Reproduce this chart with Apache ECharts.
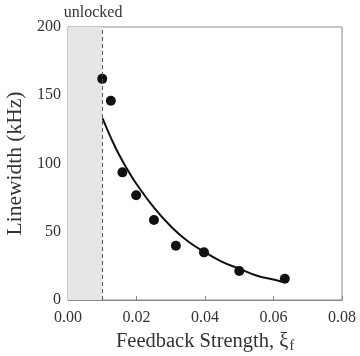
<!DOCTYPE html>
<html>
<head>
<meta charset="utf-8">
<script src="https://cdn.jsdelivr.net/npm/echarts@6/dist/echarts.min.js"></script>
<style>
  html, body { margin: 0; padding: 0; background: #fff; }
  #chart { width: 360px; height: 356px; }
</style>
</head>
<body>
<div id="chart"></div>
<script>
// measured linewidth points
const measX = [0.0100, 0.0125, 0.0159, 0.0199, 0.0251, 0.0315, 0.0397, 0.0500, 0.0633]
const measY = [162, 146, 93.5, 76.7, 58.6, 39.8, 34.9, 21.2, 15.6]
// fitted curve
const fitX = [0.0101, 0.0125, 0.015, 0.0175, 0.02, 0.025, 0.03, 0.035, 0.04, 0.045, 0.05, 0.055, 0.06, 0.0624]
const fitY = [133, 119, 106, 95, 85, 68, 54, 43, 35, 28, 23, 18, 15, 13.4]
// unlocked region
const unlockedFrom = 0
const unlockedTo = 0.01

const font = 'Liberation Serif'
const chart = echarts.init(document.getElementById('chart'))

chart.setOption({
  animation: false,
  grid: {
    left: 68, top: 27, right: 18, bottom: 56,
    containLabel: false,
    outerBoundsMode: 'none',
    show: true, borderColor: '#8a8a8a', borderWidth: 1
  },
  xAxis: {
    type: 'value',
    min: 0, max: 0.08, interval: 0.02,
    name: 'Feedback Strength, ξ{sub|f}',
    nameLocation: 'middle',
    nameGap: 22,
    nameTextStyle: {
      fontFamily: font, fontSize: 20.5, color: '#333',
      rich: { sub: { fontFamily: font, fontSize: 14, color: '#333', padding: [10, 0, 0, 1] } }
    },
    axisLine: { lineStyle: { color: '#8a8a8a' } },
    axisTick: { inside: true, length: 4, lineStyle: { color: '#8a8a8a' } },
    splitLine: { show: false },
    axisLabel: {
      fontFamily: font, fontSize: 16, color: '#333', margin: 10,
      formatter: v => v.toFixed(2)
    }
  },
  yAxis: {
    type: 'value',
    min: 0, max: 200, interval: 50,
    name: 'Linewidth (kHz)',
    nameLocation: 'middle',
    nameGap: 35,
    nameTextStyle: { fontFamily: font, fontSize: 21.5, color: '#333' },
    axisLine: { show: true, lineStyle: { color: '#8a8a8a' } },
    axisTick: { show: false },
    splitLine: { show: false },
    axisLabel: { fontFamily: font, fontSize: 16, color: '#333', margin: 7 }
  },
  series: [
    {
      type: 'line',
      data: fitX.map((x, i) => [x, fitY[i]]),
      smooth: true,
      showSymbol: false,
      lineStyle: { color: '#111', width: 2 },
      z: 3,
      markArea: {
        silent: true,
        itemStyle: { color: '#e6e6e6' },
        label: {
          show: true, position: 'top', offset: [8, -1],
          fontFamily: font, fontSize: 16, color: '#333'
        },
        data: [[{ xAxis: unlockedFrom, name: 'unlocked' }, { xAxis: unlockedTo }]]
      },
      markLine: {
        silent: true,
        symbol: 'none',
        label: { show: false },
        lineStyle: { color: '#555', type: [4, 3], width: 1 },
        data: [{ xAxis: unlockedTo }]
      }
    },
    {
      type: 'scatter',
      data: measX.map((x, i) => [x, measY[i]]),
      symbolSize: 10,
      itemStyle: { color: '#111', opacity: 1 },
      z: 4
    }
  ]
})
</script>
</body>
</html>
